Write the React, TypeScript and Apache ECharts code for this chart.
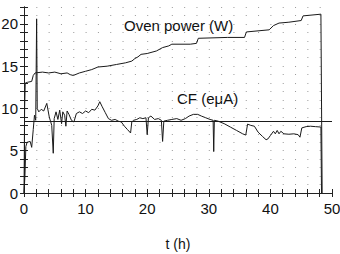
import React, { useEffect, useRef } from "react";
import * as echarts from "echarts";

const cfT = [0.0, 0.15, 0.3, 0.5, 1.0, 1.25, 1.5, 1.7, 1.9, 2.05, 2.15, 2.4, 2.8, 3.2, 3.7, 4.1, 4.5, 4.75, 4.9, 5.2, 5.5, 5.8, 6.1, 6.3, 6.6, 6.8, 7.0, 7.3, 7.7, 8.1, 8.5, 9.0, 9.5, 10.0, 10.5, 11.0, 11.5, 12.0, 12.3, 12.7, 13.2, 13.7, 14.2, 14.8, 15.3, 15.8, 16.3, 16.8, 17.3, 17.5, 17.8, 18.3, 18.8, 19.3, 19.8, 20.0, 20.2, 20.6, 21.2, 21.8, 22.3, 22.5, 22.7, 23.3, 24.0, 24.8, 25.5, 26.2, 26.8, 27.5, 28.2, 28.8, 29.5, 30.2, 30.7, 30.8, 30.9, 31.5, 32.5, 33.5, 34.5, 35.5, 36.0, 36.3, 36.8, 37.4, 38.0, 38.7, 39.3, 39.6, 40.0, 40.5, 40.8, 41.1, 41.4, 41.7, 42.2, 43.0, 43.8, 44.5, 44.8, 45.1, 45.8, 46.5, 47.3, 48.2, 48.3];
const cfV = [0, 2, 5.5, 6.0, 6.1, 5.4, 7.5, 9.2, 8.6, 20.6, 10.0, 9.6, 9.9, 9.7, 10.6, 9.0, 8.0, 4.7, 8.8, 9.6, 8.7, 9.8, 8.2, 9.6, 9.2, 7.9, 9.7, 9.3, 8.6, 8.4, 9.4, 9.6, 9.4, 9.7, 9.5, 9.9, 9.8, 10.3, 10.8, 10.2, 9.5, 8.8, 8.6, 8.7, 8.5, 8.4, 7.9, 7.5, 7.1, 8.4, 8.6, 8.7, 8.9, 8.8, 8.9, 6.9, 8.9, 9.1, 8.7, 8.8, 8.6, 6.1, 8.5, 8.6, 8.7, 8.8, 8.6, 8.8, 9.1, 9.3, 9.3, 9.1, 8.9, 8.7, 8.6, 4.9, 8.6, 8.5, 8.2, 7.8, 7.4, 7.0, 6.85, 8.15, 8.0, 7.9, 7.2, 6.7, 6.3, 6.4, 6.8, 7.3, 7.0, 7.4, 7.0, 7.3, 7.0, 6.95, 7.0, 6.9, 6.6, 7.7, 7.85, 7.9, 7.85, 7.8, 0];

const powT = [0.0, 0.1, 0.2, 0.6, 1.25, 1.5, 1.8, 3, 4, 5, 6, 7, 7.5, 8, 9, 10, 11, 12, 13.5, 15, 16.5, 17.5, 18, 18.5, 19, 20, 21.5, 22.5, 23.5, 24, 27, 28.0, 28.3, 33, 35.8, 36.1, 39.8, 40.5, 41.4, 43, 45, 45.3, 48.2, 48.4];
const powV = [0, 10, 13.0, 13.1, 13.2, 13.9, 14.2, 14.3, 14.2, 14.3, 14.1, 14.2, 14.0, 13.9, 14.2, 14.4, 14.6, 14.9, 15.0, 15.2, 15.4, 15.6, 15.9, 16.1, 16.4, 16.5, 16.8, 17.2, 17.4, 17.6, 17.6, 17.7, 18.3, 18.4, 18.4, 19.05, 19.3, 19.8, 20.1, 20.2, 20.4, 20.95, 21.15, 0];

const refLevel = 8.5;
const xLabels = [0, 10, 20, 30, 40, 50];
const yLabels = [0, 5, 10, 15, 20];

const W = 340, H = 254;
const GL = 24, GR = 8, GT = 7, GB = 61;
const XMAX = 50, YMAX = 22;

export default function App() {
  const ref = useRef<HTMLDivElement>(null);
  useEffect(() => {
    if (!ref.current) return;
    const chart = echarts.init(ref.current, null, { renderer: "svg" });
    const gw = W - GL - GR;
    const stepX = gw / 25;
    const font = "Liberation Sans, Arial, Helvetica, sans-serif";
    const tickStyle = { show: true, inside: true, length: 4, lineStyle: { color: "#222", width: 1 } };
    const axisLineStyle = { show: true, lineStyle: { color: "#222", width: 1 } };
    chart.setOption({
      animation: false,
      textStyle: { fontFamily: font },
      grid: { left: GL, right: GR, top: GT, bottom: GB, containLabel: false, outerBoundsMode: "none" },
      xAxis: [
        {
          type: "value", min: 0, max: XMAX, interval: 2,
          axisLine: axisLineStyle, axisTick: tickStyle,
          axisLabel: {
            color: "#111", fontSize: 15, margin: 8, fontFamily: font,
            formatter: (v: number) => (xLabels.includes(v) ? String(v) : ""),
          },
          splitLine: { show: false },
          name: "t (h)", nameLocation: "middle", nameGap: 44,
          nameTextStyle: { color: "#111", fontSize: 14, fontFamily: font },
        },
        {
          type: "value", position: "top", min: 0, max: XMAX, interval: 2,
          axisLine: axisLineStyle, axisTick: tickStyle,
          axisLabel: { show: false }, splitLine: { show: false },
        },
      ],
      yAxis: [
        {
          type: "value", min: 0, max: YMAX, interval: 1,
          axisLine: axisLineStyle, axisTick: tickStyle,
          axisLabel: {
            color: "#111", fontSize: 15, margin: 6, fontFamily: font,
            formatter: (v: number) => (yLabels.includes(v) ? String(v) : ""),
          },
          splitLine: {
            show: true,
            lineStyle: { color: "#9a9a9a", width: 1, type: [1, stepX - 1] },
          },
        },
        {
          type: "value", position: "right", min: 0, max: YMAX, interval: 1,
          axisLine: axisLineStyle, axisTick: tickStyle,
          axisLabel: { show: false }, splitLine: { show: false },
        },
      ],
      series: [
        {
          type: "line",
          name: "Oven power (W)",
          data: powT.map((t, i) => [t, powV[i]]),
          showSymbol: false,
          lineStyle: { color: "#1a1a1a", width: 1 },
        },
        {
          type: "line",
          name: "CF (eμA)",
          data: cfT.map((t, i) => [t, cfV[i]]),
          showSymbol: false,
          lineStyle: { color: "#1a1a1a", width: 1 },
          markLine: {
            silent: true,
            symbol: "none",
            label: { show: false },
            lineStyle: { color: "#1a1a1a", width: 1, type: "solid" },
            data: [{ yAxis: refLevel }],
          },
        },
      ],
      graphic: [
        {
          type: "text", left: 124, top: 18,
          style: { text: "Oven power (W)", fontSize: 15, fill: "#111", fontFamily: font },
        },
        {
          type: "text", left: 177, top: 91,
          style: { text: "CF (eμA)", fontSize: 15, fill: "#111", fontFamily: font },
        },
      ],
    });
    return () => chart.dispose();
  }, []);
  return <div ref={ref} style={{ width: W, height: H, position: "absolute", left: 0, top: 0 }} />;
}
